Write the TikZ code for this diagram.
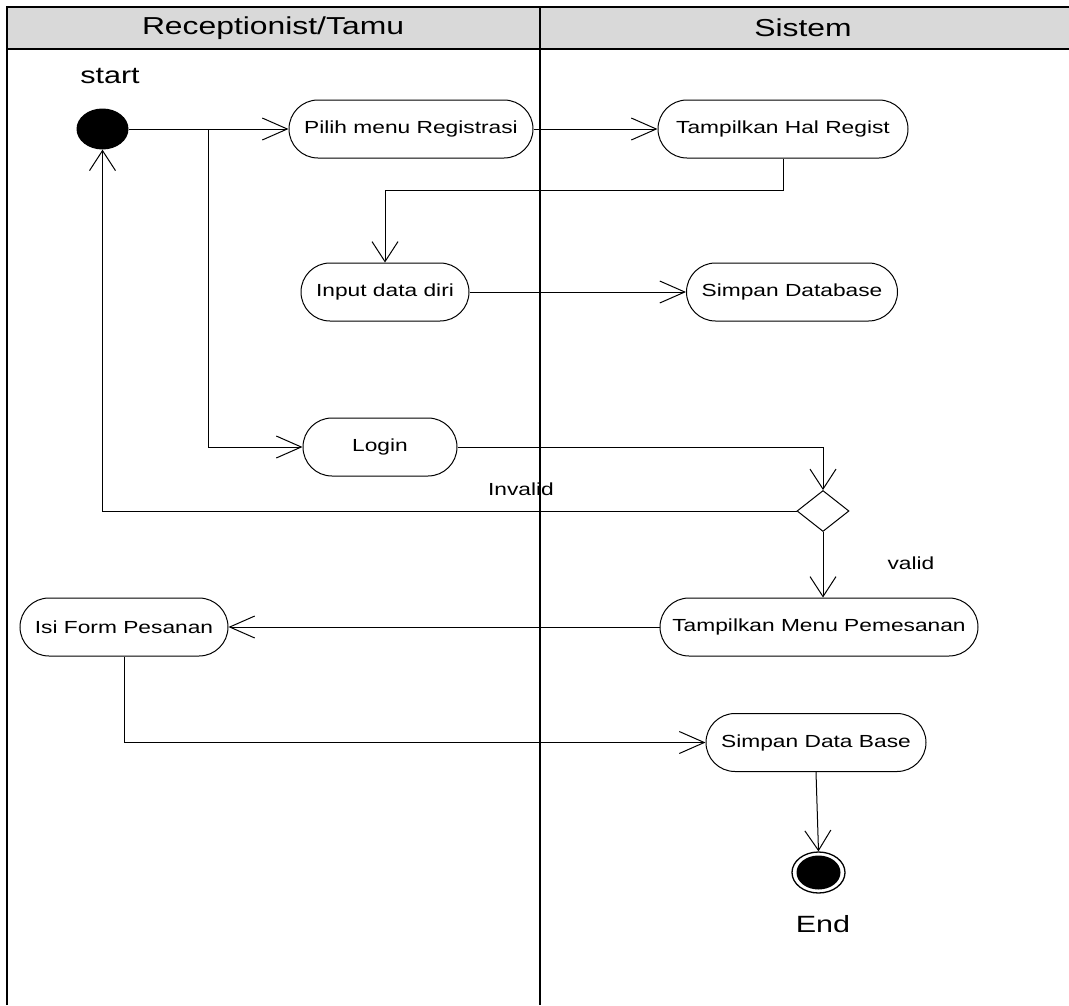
\documentclass[tikz,border=0pt]{standalone}
\usepackage{fontspec}
\setmainfont{Liberation Sans}[FakeStretch=1.3]
\usetikzlibrary{arrows.meta,shapes.misc,shapes.geometric}
\definecolor{headgray}{HTML}{D9D9D9}
\begin{document}
\begin{tikzpicture}[x=1pt,y=1pt,
  lane/.style={line width=2.4pt},
  activity/.style={rounded rectangle, draw, line width=1pt, minimum height=58pt,
    inner sep=0pt, font=\fontsize{17.5}{20}\selectfont},
  flow/.style={line width=1pt, -{Straight Barb[length=25pt,width=22pt]}},
  vflow/.style={line width=1pt, -{Straight Barb[length=20pt,width=26pt]}},
  guard/.style={font=\fontsize{17.5}{20}\selectfont},
  title/.style={font=\fontsize{24.5}{28}\selectfont},
  statelabel/.style={font=\fontsize{23.5}{27}\selectfont},
]
\useasboundingbox (0,0) rectangle (1069,-1005);

% swimlane frame
\fill[headgray] (7,-7) rectangle (1069,-49);
\draw[lane] (7,-1005) -- (7,-7) -- (1069,-7);
\draw[lane] (7,-49) -- (1069,-49);
\draw[lane] (540,-7) -- (540,-1005);
\node[title] (laneA) at (273,-28) {Receptionist/Tamu};
\node[title] (laneB) at (803,-28) {Sistem};

% initial and final states
\node[statelabel] (startlbl) at (110,-76) {start};
\node[ellipse, fill=black, minimum width=52pt, minimum height=41pt, inner sep=0pt] (start) at (102.5,-129) {};
\node[ellipse, draw, line width=1.3pt, minimum width=53pt, minimum height=41pt, inner sep=0pt] (end) at (818.5,-872.5) {};
\node[ellipse, fill=black, minimum width=44pt, minimum height=34pt, inner sep=0pt] (endcore) at (end.center) {};
\node[statelabel] (endlbl) at (823,-924) {End};

% activities
\node[activity, minimum width=244pt] (pilih) at (411,-129) {Pilih menu Registrasi};
\node[activity, minimum width=250pt] (halregist) at (783,-129) {Tampilkan Hal Regist};
\node[activity, minimum width=168pt] (input) at (385,-292) {Input data diri};
\node[activity, minimum width=211pt] (simpandb) at (792,-292) {Simpan Database};
\node[activity, minimum width=154pt] (login) at (380,-447) {Login};
\node[diamond, draw, line width=1pt, minimum width=52pt, minimum height=41pt, inner sep=0pt] (decision) at (823,-511) {};
\node[activity, minimum width=318pt] (menu) at (819,-627) {Tampilkan Menu Pemesanan};
\node[activity, minimum width=208pt] (isi) at (124,-627) {Isi Form Pesanan};
\node[activity, minimum width=220pt] (sdb) at (816,-742.5) {Simpan Data Base};

% guard labels
\node[guard] (invalid) at (521,-489) {Invalid};
\node[guard] (valid) at (911,-563) {valid};

% control flows
\coordinate (fork) at (208,-129);
\draw[flow] (start.east) -- (pilih.west);
\draw[flow] (fork) |- (login.west);
\draw[flow] (pilih.east) -- (halregist.west);
\draw[vflow] (halregist.south) -- ++(0,-32) -| (input.north);
\draw[flow] (input.east) -- (simpandb.west);
\draw[vflow] (login.east) -| (decision.north);
\draw[vflow] (decision.west) -| (start.south);
\draw[vflow] (decision.south) -- (decision.south |- menu.north);
\draw[flow] (menu.west) -- (isi.east);
\draw[flow] (isi.south) |- (sdb.west);
\draw[vflow] (sdb.south) -- (end.north);
\end{tikzpicture}
\end{document}
